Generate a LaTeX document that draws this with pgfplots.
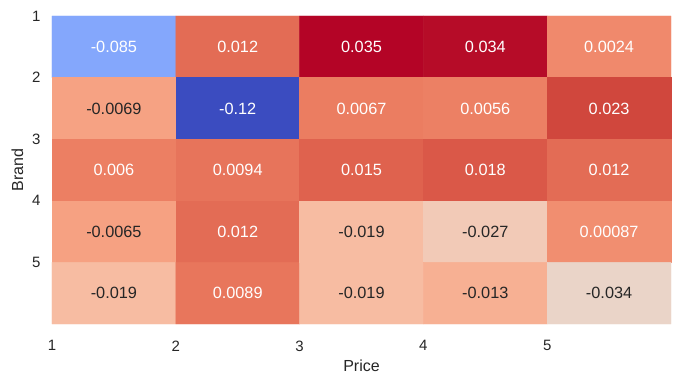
\documentclass[border=0pt]{standalone}
\usepackage{pgfplots}
\pgfplotsset{compat=1.18}
\usepackage{fontspec}
\setmainfont{Liberation Sans}
\definecolor{txtdark}{HTML}{262626}
\pgfplotsset{
  colormap={coolwarm}{
    rgb255=(59,76,192) rgb255=(68,90,204) rgb255=(77,104,215) rgb255=(87,117,225)
    rgb255=(98,130,234) rgb255=(108,142,241) rgb255=(119,154,247) rgb255=(130,165,251)
    rgb255=(141,176,254) rgb255=(152,185,255) rgb255=(163,194,255) rgb255=(174,201,253)
    rgb255=(184,208,249) rgb255=(194,213,244) rgb255=(204,217,238) rgb255=(213,219,230)
    rgb255=(221,221,221) rgb255=(229,216,209) rgb255=(236,211,197) rgb255=(241,204,185)
    rgb255=(245,196,173) rgb255=(247,187,160) rgb255=(247,177,148) rgb255=(247,166,135)
    rgb255=(244,154,123) rgb255=(241,141,111) rgb255=(236,127,99) rgb255=(229,112,88)
    rgb255=(222,96,77) rgb255=(213,80,66) rgb255=(203,62,56) rgb255=(192,40,47)
    rgb255=(180,4,38)
  }
}
\begin{document}
\begin{tikzpicture}
\begin{axis}[
  scale only axis, width=619pt, height=308pt,
  xmin=1, xmax=6, ymin=1, ymax=6, y dir=reverse,
  xtick={1,2,3,4,5}, ytick={1,2,3,4,5},
  axis line style={draw=none}, tick style={draw=none},
  colormap name=coolwarm,
  point meta min=-0.12, point meta max=0.035,
  /pgf/number format/assume math mode=true,
  ticklabel style={font=\fontsize{15}{17}\selectfont, text=txtdark},
  xticklabel style={yshift=-13pt},
  yticklabel style={xshift=-8pt},
  label style={font=\fontsize{16}{19}\selectfont, text=txtdark},
  xlabel={Price}, ylabel={Brand},
  xlabel style={yshift=-2pt},
  ylabel style={yshift=2pt},
  clip=false,
]
\addplot[matrix plot*, mesh/cols=5, point meta=explicit] table[meta=v] {
x y v
1.5 1.5 -0.085
2.5 1.5 0.012
3.5 1.5 0.035
4.5 1.5 0.034
5.5 1.5 0.0024
1.5 2.5 -0.0069
2.5 2.5 -0.12
3.5 2.5 0.0067
4.5 2.5 0.0056
5.5 2.5 0.023
1.5 3.5 0.006
2.5 3.5 0.0094
3.5 3.5 0.015
4.5 3.5 0.018
5.5 3.5 0.012
1.5 4.5 -0.0065
2.5 4.5 0.012
3.5 4.5 -0.019
4.5 4.5 -0.027
5.5 4.5 0.00087
1.5 5.5 -0.019
2.5 5.5 0.0089
3.5 5.5 -0.019
4.5 5.5 -0.013
5.5 5.5 -0.034
};
\addplot[only marks, mark=none, nodes near coords, point meta=explicit symbolic,
  every node near coord/.append style={anchor=center, text=white, font=\fontsize{16.3}{19}\selectfont}]
  table[meta=t] {
x y t
1.5 1.5 -0.085
2.5 1.5 0.012
3.5 1.5 0.035
4.5 1.5 0.034
5.5 1.5 0.0024
2.5 2.5 -0.12
3.5 2.5 0.0067
4.5 2.5 0.0056
5.5 2.5 0.023
1.5 3.5 0.006
2.5 3.5 0.0094
3.5 3.5 0.015
4.5 3.5 0.018
5.5 3.5 0.012
2.5 4.5 0.012
5.5 4.5 0.00087
2.5 5.5 0.0089
};
\addplot[only marks, mark=none, nodes near coords, point meta=explicit symbolic,
  every node near coord/.append style={anchor=center, text=txtdark, font=\fontsize{16.3}{19}\selectfont}]
  table[meta=t] {
x y t
1.5 2.5 -0.0069
1.5 4.5 -0.0065
3.5 4.5 -0.019
4.5 4.5 -0.027
1.5 5.5 -0.019
3.5 5.5 -0.019
4.5 5.5 -0.013
5.5 5.5 -0.034
};
\end{axis}
\pgfresetboundingbox
\path ([xshift=-52pt,yshift=-58pt]current axis.south west) rectangle ([xshift=11pt,yshift=16pt]current axis.north east);
\end{tikzpicture}
\end{document}
